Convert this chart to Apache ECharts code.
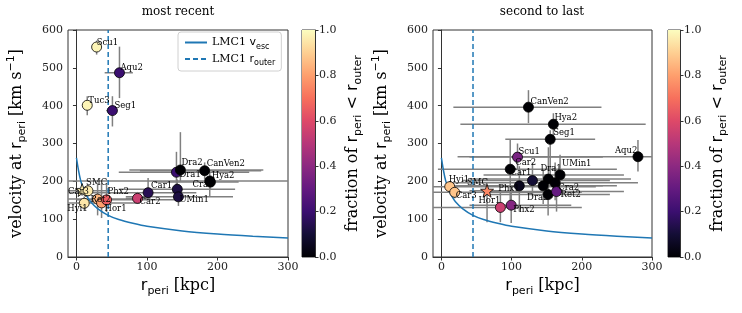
<!DOCTYPE html>
<html><head><meta charset="utf-8">
<script src="https://cdn.jsdelivr.net/npm/echarts@6/dist/echarts.min.js"></script>
<style>html,body{margin:0;padding:0;background:#fff}#c{width:742px;height:313px}</style>
</head><body><div id="c"></div>
<script>
// ---------- data: most recent pericentre ----------
const recentNames = ['Scu1','Aqu2','Tuc3','Seg1','SMC','Car3','Hyi1','Ret2','Hor1','Phx2','Car2','Car1','Dra1','Dra2','CanVen2','Cra2','Hya2','','UMin1'];
const recentR     = [28.6, 61, 15.3, 51, 8, 16.3, 11, 30, 35.6, 42.7, 86.6, 101.6, 141.8, 147.4, 181.8, 190, 189, 143, 144.6];
const recentV     = [555, 487, 401, 387, 177, 175, 142, 153, 143, 151, 155, 170, 224, 230, 228, 198, 201, 179, 159];
const recentRLo   = [25, 40, 12, 42, 3, -12, 6, -12, -12, 0, 70, -12, 60, 75, 90, 110, -20, 60, 70];
const recentRHi   = [33, 80, 19, 58, 13, 45, 16, 95, 90, 140, 105, 170, 245, 265, 262, 230, 320, 225, 222];
const recentVLo   = [535, 420, 375, 345, 162, 160, 125, 110, 103, 119, 140, 150, 182, 200, 205, 180, 160, 160, 135];
const recentVHi   = [572, 556, 425, 425, 192, 190, 160, 195, 196, 196, 172, 209, 278, 330, 250, 215, 225, 205, 180];
const recentFrac  = [0.98, 0.2, 0.98, 0.2, 0.97, 0.96, 0.95, 0.85, 0.8, 0.65, 0.55, 0.15, 0.2, 0.0, 0.0, 0.0, 0.0, 0.12, 0.12];

// ---------- data: second to last pericentre ----------
const prevNames = ['CanVen2','Hya2','Seg1','Aqu2','Scu1','Car2','Phx1','Car1','Dra1','UMin1','','Cra2','Dra2','Ret2','SMC','Hyi1','Car3','Hor1','Phx2'];
const prevR     = [124, 159.5, 155, 280, 108.4, 98, 111, 129.7, 152.4, 169, 145, 162, 152, 164, 65, 11.8, 18.9, 84, 99.4];
const prevV     = [396, 351, 311, 265, 264, 232, 188, 202, 206, 217, 188, 196, 165, 173, 175, 186, 171, 131, 137];
const prevRLo   = [17, 27, 91, 23, 40, -5, 20, 30, 40, 60, 20, 10, 60, 60, 40, -12, -12, -12, 40];
const prevRHi   = [228, 291, 219, 320, 230, 250, 250, 240, 270, 260, 230, 280, 240, 260, 90, 220, 200, 200, 185];
const prevVLo   = [354, 300, 190, 226, 230, 150, 120, 160, 150, 170, 140, 150, 110, 120, 92, 170, 155, 92, 90];
const prevVHi   = [441, 380, 335, 309, 300, 312, 240, 250, 290, 270, 230, 250, 215, 230, 190, 200, 190, 170, 185];
const prevFrac  = [0, 0, 0, 0, 0.35, 0, 0.05, 0.1, 0, 0, 0, 0, 0, 0.3, 0.75, 0.88, 0.88, 0.55, 0.38];

// ---------- LMC1 escape velocity curve and outer radius ----------
const escR = [0, 3, 6, 10, 15, 20, 30, 45, 60, 80, 100, 150, 200, 250, 300];
const escV = [262, 228, 202, 180, 160, 146, 128, 110, 99, 89, 81, 69, 61, 55, 50];
const rOuter = 45;

// ---------- ticks ----------
const xTicks = [0, 100, 200, 300];
const yTicks = [0, 100, 200, 300, 400, 500, 600];
const cbTicks = [0, 0.2, 0.4, 0.6, 0.8, 1.0];

// ---------- layout / style (not data) ----------
const recentLabelOffset = {Scu1:[0,0],Aqu2:[1,0],Tuc3:[1,0],Seg1:[2,0],SMC:[4,-3],Car3:[-20,6],Hyi1:[-17,10],Ret2:[-7,5],Hor1:[3,10],Phx2:[1,-4],Car2:[2,8],Car1:[3,-2],Dra1:[3,7],Dra2:[1,-3],CanVen2:[2,-2],Cra2:[-18,7],Hya2:[2,-1],UMin1:[1,7]};
const prevLabelOffset = {CanVen2:[2,-1],Hya2:[1,-2],Seg1:[3,-2],Aqu2:[-23,-1],Scu1:[1,-1],Car2:[5,-2],Phx1:[-21,7],Car1:[-22,-3],Dra1:[-8,-6],UMin1:[2,-7],Cra2:[3,9],Dra2:[-21,8],Ret2:[4,8],SMC:[-20,-3],Hyi1:[-1,-2],Car3:[1,8],Hor1:[-22,-2],Phx2:[2,9]};
const magma = ['#000004','#140e36','#3b0f70','#641a80','#8c2981','#b73779','#de4968','#f7705c','#fe9f6d','#fecf92','#fcfdbf'];
const STAR = 'path://M0,-10 L2.35,-3.24 L9.51,-3.09 L3.8,1.24 L5.88,8.09 L0,4 L-5.88,8.09 L-3.8,1.24 L-9.51,-3.09 L-2.35,-3.24 Z';
const XMIN = -12, XMAX = 300;
const SERIF = 'DejaVu Serif', SANS = 'DejaVu Sans';

const chart = echarts.init(document.getElementById('c'), null, {renderer: 'canvas'});

const nameRich = {
  n: {fontFamily: SERIF, fontSize: 16, lineHeight: 22, color: '#000'},
  m: {fontFamily: SANS, fontSize: 16, lineHeight: 22, color: '#000'},
  sub: {fontFamily: SANS, fontSize: 11, lineHeight: 12, verticalAlign: 'bottom', color: '#000'},
  sup: {fontFamily: SANS, fontSize: 11, lineHeight: 12, verticalAlign: 'top', color: '#000'}
};
const legRich = {
  n: {fontFamily: SERIF, fontSize: 11, lineHeight: 16, color: '#000'},
  m: {fontFamily: SANS, fontSize: 11, lineHeight: 16, color: '#000'},
  sub: {fontFamily: SANS, fontSize: 8, lineHeight: 10, verticalAlign: 'bottom', color: '#000'}
};

function errRender(params, api) {
  const x = api.value(0), y = api.value(1);
  const p1 = api.coord([Math.max(api.value(2), XMIN), y]);
  const p2 = api.coord([Math.min(api.value(3), XMAX), y]);
  const p3 = api.coord([x, api.value(4)]);
  const p4 = api.coord([x, api.value(5)]);
  const style = {stroke: '#808080', lineWidth: 1.5};
  return {type: 'group', children: [
    {type: 'line', shape: {x1: p1[0], y1: p1[1], x2: p2[0], y2: p2[1]}, style: style},
    {type: 'line', shape: {x1: p3[0], y1: p3[1], x2: p4[0], y2: p4[1]}, style: style}
  ]};
}

function panelSeries(gi, names, R, V, RLo, RHi, VLo, VHi, F, offsets, withLegend) {
  const err = names.map((n, i) => [R[i], V[i], RLo[i], RHi[i], VLo[i], VHi[i]]);
  const pts = names.map((n, i) => {
    const item = {value: [R[i], V[i], F[i]], name: n};
    if (n === 'SMC') { item.symbol = STAR; item.symbolSize = 13; }
    return item;
  });
  return [
    {type: 'custom', xAxisIndex: gi, yAxisIndex: gi, renderItem: errRender, data: err, clip: true, z: 1, silent: true},
    {type: 'line', name: withLegend ? 'vesc' : 'vesc_' + gi, xAxisIndex: gi, yAxisIndex: gi,
      data: escR.map((r, i) => [r, escV[i]]), smooth: 0.3, symbol: 'none', showSymbol: false,
      lineStyle: {color: '#1f77b4', width: 1.5}, itemStyle: {color: '#1f77b4'}, z: 2},
    {type: 'line', name: withLegend ? 'router' : 'router_' + gi, xAxisIndex: gi, yAxisIndex: gi,
      data: [[rOuter, 0], [rOuter, 600]], symbol: 'none', showSymbol: false,
      lineStyle: {color: '#1f77b4', width: 1.5, type: [5, 3]}, itemStyle: {color: '#1f77b4'}, z: 2},
    {type: 'scatter', xAxisIndex: gi, yAxisIndex: gi, data: pts, symbolSize: 10,
      itemStyle: {borderColor: '#000', borderWidth: 0.8, opacity: 1},
      label: {show: true, position: 'inside', align: 'left', verticalAlign: 'bottom',
        formatter: p => p.name, fontFamily: SERIF, fontSize: 8.5, color: '#000'},
      labelLayout: p => { const o = offsets[names[p.dataIndex]] || [0, 0]; return {dx: o[0], dy: o[1], hideOverlap: false}; },
      z: 3}
  ];
}

const series = [].concat(
  panelSeries(0, recentNames, recentR, recentV, recentRLo, recentRHi, recentVLo, recentVHi, recentFrac, recentLabelOffset, true),
  panelSeries(2, prevNames, prevR, prevV, prevRLo, prevRHi, prevVLo, prevVHi, prevFrac, prevLabelOffset, false)
);
// colorbars
const cbGrad = () => new echarts.graphic.LinearGradient(0, 1, 0, 0, magma.map((c, i) => ({offset: i / (magma.length - 1), color: c})));
series.push({type: 'bar', xAxisIndex: 1, yAxisIndex: 1, data: [1], barWidth: '100%', itemStyle: {color: cbGrad()}, silent: true});
series.push({type: 'bar', xAxisIndex: 3, yAxisIndex: 3, data: [1], barWidth: '100%', itemStyle: {color: cbGrad()}, silent: true});

const tickLbl = {fontFamily: SERIF, fontSize: 11, color: '#222'};
function mainX(gi) {
  return {type: 'value', gridIndex: gi, min: XMIN, max: XMAX,
    axisLine: {show: true, onZero: false, lineStyle: {color: '#333', width: 1}},
    axisTick: {show: true, length: 3.5, lineStyle: {color: '#333'}, customValues: xTicks},
    axisLabel: Object.assign({customValues: xTicks, margin: 5}, tickLbl),
    splitLine: {show: false},
    name: '{m|r}{sub|peri}{n| [kpc]}', nameLocation: 'middle', nameGap: 17,
    nameTextStyle: {rich: nameRich}};
}
function mainY(gi) {
  return {type: 'value', gridIndex: gi, min: 0, max: 600, interval: 100,
    axisLine: {show: true, lineStyle: {color: '#333', width: 1}},
    axisTick: {show: true, length: 3.5, lineStyle: {color: '#333'}},
    axisLabel: Object.assign({margin: 5, formatter: v => yTicks.includes(v) ? String(v) : ''}, tickLbl),
    splitLine: {show: false},
    name: '{n|velocity at }{m|r}{sub|peri}{n| [km s}{sup|\u22121}{n|]}', nameLocation: 'middle', nameGap: 40, nameRotate: 90,
    nameTextStyle: {rich: nameRich}};
}
function cbX(gi) {
  return {type: 'category', gridIndex: gi, data: ['c'], show: false};
}
function cbY(gi) {
  return {type: 'value', gridIndex: gi, min: 0, max: 1, interval: 0.2, position: 'right',
    axisLine: {show: true, lineStyle: {color: '#333', width: 1}},
    axisTick: {show: true, length: 3.5, lineStyle: {color: '#333'}},
    axisLabel: Object.assign({margin: 4, formatter: v => cbTicks.some(t => Math.abs(t - v) < 1e-9) ? v.toFixed(1) : ''}, tickLbl),
    splitLine: {show: false},
    name: '{n|fraction of }{m|r}{sub|peri}{m| < r}{sub|outer}', nameLocation: 'middle', nameGap: 27, nameRotate: 90,
    nameTextStyle: {rich: nameRich}};
}

const option = {
  animation: false,
  backgroundColor: '#fff',
  grid: [
    {left: 68, top: 30, width: 220, height: 227, show: true, borderColor: '#333', borderWidth: 1, backgroundColor: 'transparent'},
    {left: 302, top: 30, width: 13, height: 227, show: true, borderColor: '#333', borderWidth: 1},
    {left: 433, top: 30, width: 219, height: 227, show: true, borderColor: '#333', borderWidth: 1},
    {left: 668, top: 30, width: 12, height: 227, show: true, borderColor: '#333', borderWidth: 1}
  ],
  xAxis: [mainX(0), cbX(1), mainX(2), cbX(3)],
  yAxis: [mainY(0), cbY(1), mainY(2), cbY(3)],
  visualMap: [{type: 'continuous', show: false, min: 0, max: 1, dimension: 2,
    seriesIndex: [3, 7], inRange: {color: magma}}],
  legend: {
    data: ['vesc', 'router'], orient: 'vertical', left: 178, top: 32,
    itemWidth: 22, itemHeight: 10, itemGap: 3, padding: [5, 6, 4, 6],
    itemStyle: {opacity: 0},
    backgroundColor: 'rgba(255,255,255,0.85)', borderColor: '#d0d0d0', borderWidth: 1, borderRadius: 3,
    formatter: n => n === 'vesc' ? '{n|LMC1 }{m|v}{sub|esc}' : '{n|LMC1 }{m|r}{sub|outer}',
    textStyle: {rich: legRich}
  },
  graphic: [
    {type: 'text', x: 178, y: 12, style: {text: 'most recent', align: 'center', verticalAlign: 'middle', fontFamily: SERIF, fontSize: 12, fill: '#000'}},
    {type: 'text', x: 542, y: 12, style: {text: 'second to last', align: 'center', verticalAlign: 'middle', fontFamily: SERIF, fontSize: 12, fill: '#000'}}
  ],
  series: series
};
chart.setOption(option);
</script></body></html>
